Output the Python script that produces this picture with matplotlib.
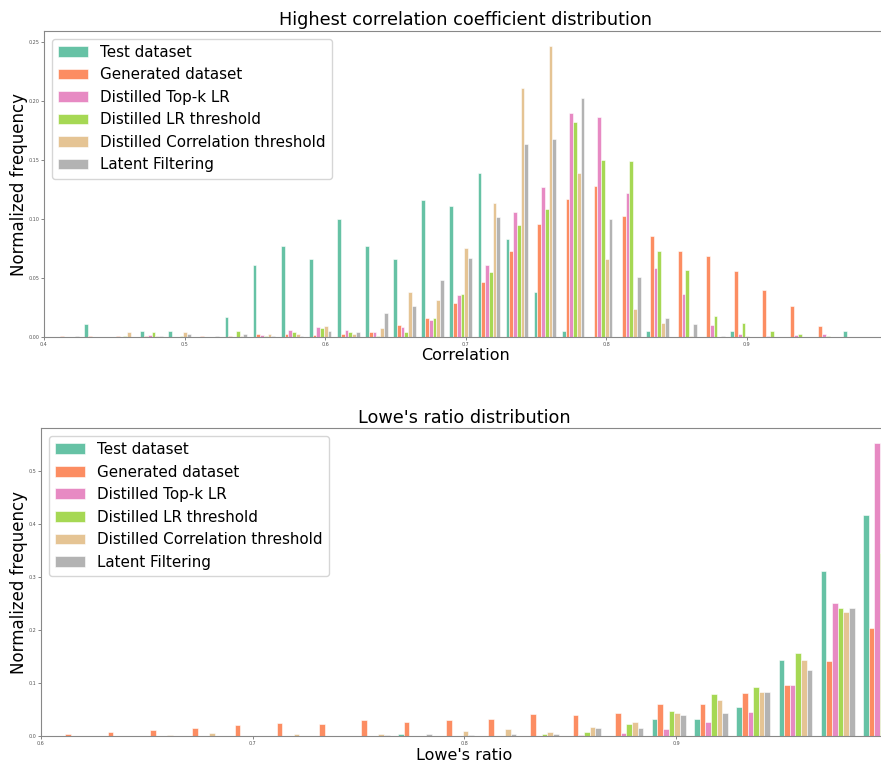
import numpy as np
import matplotlib
matplotlib.use("Agg")
import matplotlib.pyplot as plt

labels = ["Test dataset", "Generated dataset", "Distilled Top-k LR",
          "Distilled LR threshold", "Distilled Correlation threshold", "Latent Filtering"]
colors = ["#66c2a5", "#fc8d62", "#e78ac3", "#a6d854", "#e5c494", "#b3b3b3"]

# correlation histogram: 29 bins of ~0.02 starting at ~0.4066
corr_edges = np.linspace(0.4066, 0.9862, 30)
corr_ticks = [0.4, 0.5, 0.6, 0.7, 0.8, 0.9]
corr_test = [0, 0.011, 0, 0.005, 0.005, 0, 0.0166, 0.061, 0.0774, 0.0664, 0.0997, 0.0774, 0.0664, 0.1163,
             0.111, 0.1388, 0.0833, 0.0386, 0.005, 0, 0, 0.005, 0, 0, 0.005, 0, 0, 0, 0.005]
corr_gen = [0.0005, 0.0005, 0.0005, 0.001, 0, 0.0005, 0.001, 0.0025, 0.0028, 0.0017, 0.0028, 0.004, 0.0101, 0.016,
            0.029, 0.047, 0.0732, 0.096, 0.117, 0.1284, 0.103, 0.0856, 0.0726, 0.0684, 0.0563, 0.0397, 0.0259, 0.0096, 0]
corr_topk = [0, 0, 0, 0.002, 0, 0, 0, 0.002, 0.0056, 0.0084, 0.0056, 0.0045, 0.0084, 0.0146,
             0.0358, 0.0614, 0.1059, 0.1275, 0.1903, 0.1864, 0.122, 0.0586, 0.0369, 0.0099, 0.0025, 0.001, 0.002, 0.0025, 0]
corr_lrth = [0, 0, 0.001, 0.004, 0.001, 0, 0.005, 0.001, 0.004, 0.0079, 0.004, 0.001, 0.004, 0.016,
             0.0369, 0.0549, 0.0949, 0.1087, 0.1822, 0.15, 0.149, 0.0726, 0.0566, 0.0177, 0.0121, 0.005, 0.0025, 0.001, 0]
corr_corrth = [0, 0, 0.004, 0.001, 0.004, 0, 0.001, 0.0025, 0.0025, 0.0096, 0.0028, 0.0079, 0.038, 0.0315,
               0.0757, 0.114, 0.2111, 0.2472, 0.139, 0.066, 0.0234, 0.012, 0.001, 0, 0.001, 0, 0, 0, 0]
corr_latent = [0.001, 0, 0, 0.001, 0.0025, 0.001, 0.0025, 0.001, 0.001, 0.005, 0.004, 0.0203, 0.0262, 0.048,
               0.067, 0.1016, 0.1636, 0.168, 0.2024, 0.1002, 0.0507, 0.016, 0.0107, 0.001, 0, 0, 0, 0, 0]

# Lowe's ratio histogram: 20 bins of ~0.02 starting at ~0.6069
lowe_edges = np.linspace(0.6069, 1.0063, 21)
lowe_ticks = [0.6, 0.7, 0.8, 0.9]
lowe_test = [0, 0, 0, 0, 0, 0, 0, 0, 0.005, 0, 0, 0, 0, 0, 0.0326, 0.0326, 0.0552, 0.143, 0.3124, 0.4178]
lowe_gen = [0.0038, 0.0075, 0.0113, 0.015, 0.0213, 0.0245, 0.0238, 0.0314, 0.027, 0.030,
            0.0326, 0.042, 0.0408, 0.0439, 0.0615, 0.0602, 0.0816, 0.0966, 0.1424, 0.2045]
lowe_topk = [0, 0, 0, 0, 0, 0, 0.0005, 0, 0.0005, 0, 0.001, 0, 0.0025, 0.0063, 0.0138, 0.027, 0.0464, 0.0966, 0.2516, 0.5527]
lowe_lrth = [0, 0, 0, 0, 0, 0, 0, 0, 0, 0, 0, 0.0044, 0.0075, 0.0232, 0.047, 0.0797, 0.0935, 0.1568, 0.2422, 0.345]
lowe_corrth = [0, 0.001, 0.0025, 0.0063, 0, 0.0038, 0.001, 0.0038, 0, 0.0107,
               0.0138, 0.0082, 0.0176, 0.027, 0.0433, 0.0678, 0.0841, 0.1443, 0.234, 0.33]
lowe_latent = [0, 0, 0.001, 0.001, 0.0005, 0.0005, 0, 0.0025, 0.005, 0.0025,
               0.0044, 0.0044, 0.015, 0.015, 0.0401, 0.0433, 0.0828, 0.1248, 0.2409, 0.41]


def grouped_hist(ax, edges, series, title, xlabel, xlim, xticks, yfmt):
    centers = (edges[:-1] + edges[1:]) / 2
    ax.hist([centers] * len(series), bins=edges, weights=series, color=colors,
            label=labels, edgecolor="white", linewidth=0.4)
    ax.set_xlim(*xlim)
    ax.set_xticks(xticks)
    ax.set_title(title, fontsize=12.7, pad=4)
    ax.set_xlabel(xlabel, fontsize=11.5, labelpad=1)
    ax.set_ylabel("Normalized frequency", fontsize=12, labelpad=0)
    ax.yaxis.set_major_formatter(plt.FormatStrFormatter(yfmt))
    ax.tick_params(labelsize=3.5, length=2, width=0.5, colors="#555555", pad=1.5)
    for s in ax.spines.values():
        s.set_color("#888888")
    ax.legend(loc="upper left", fontsize=10.9)


fig = plt.figure(figsize=(8.81, 7.62), dpi=100)
ax1 = fig.add_axes([0.0499, 0.5577, 0.9575, 0.4016])
ax2 = fig.add_axes([0.0465, 0.0337, 0.9612, 0.4042])

grouped_hist(ax1, corr_edges,
             [corr_test, corr_gen, corr_topk, corr_lrth, corr_corrth, corr_latent],
             "Highest correlation coefficient distribution", "Correlation", (0.4, 1.0), corr_ticks, "%.2f")
grouped_hist(ax2, lowe_edges,
             [lowe_test, lowe_gen, lowe_topk, lowe_lrth, lowe_corrth, lowe_latent],
             "Lowe's ratio distribution", "Lowe's ratio", (0.6, 1.0), lowe_ticks, "%.1f")

fig.savefig("out.png", dpi=100)
